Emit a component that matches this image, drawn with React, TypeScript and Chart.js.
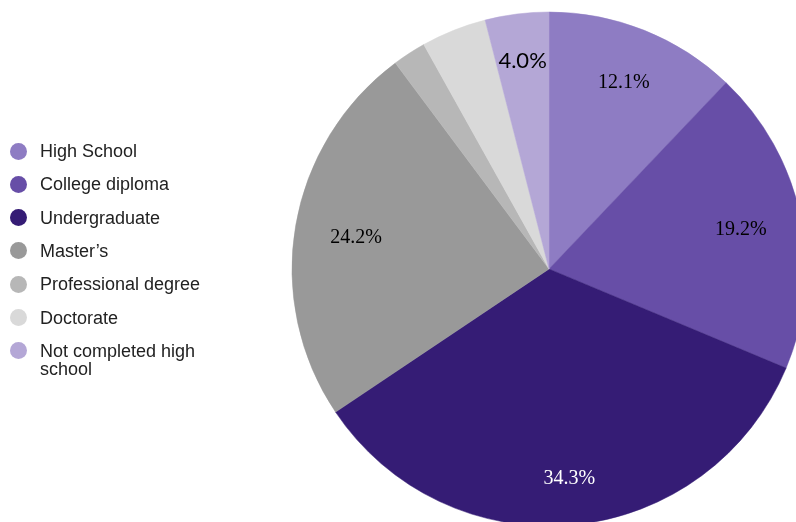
import React, { useEffect, useRef } from "react";
import { Chart, registerables } from "chart.js";

Chart.register(...registerables);

const categories = [
  "High School",
  "College diploma",
  "Undergraduate",
  "Master\u2019s",
  "Professional degree",
  "Doctorate",
  "Not completed high school",
];
const legendLines = [
  ["High School"],
  ["College diploma"],
  ["Undergraduate"],
  ["Master\u2019s"],
  ["Professional degree"],
  ["Doctorate"],
  ["Not completed high", "school"],
];
const values = [12.1, 19.2, 34.3, 24.2, 2.1, 4.1, 4.0];
const colors = ["#8e7cc3", "#674ea7", "#351c75", "#999999", "#b7b7b7", "#d9d9d9", "#b4a7d6"];
const showLabel = [true, true, true, true, false, false, true];
const labelColors = ["#000000", "#000000", "#ffffff", "#000000", "#000000", "#000000", "#000000"];
const labelFonts = [
  "20px 'Liberation Serif'",
  "20px 'Liberation Serif'",
  "20px 'Liberation Serif'",
  "20px 'Liberation Serif'",
  "20px 'Liberation Serif'",
  "20px 'Liberation Serif'",
  "22px Lato",
];
const labelRadius = [0.784, 0.763, 0.816, 0.762, 0.79, 0.79, 0.82];
const labelDigitHalf = [6.6, 6.6, 6.6, 6.6, 6.6, 6.6, 7.9];

const sliceLabelPlugin = {
  id: "sliceLabels",
  afterDatasetsDraw(chart: any) {
    const ctx = chart.ctx;
    const meta = chart.getDatasetMeta(0);
    meta.data.forEach((arc: any, i: number) => {
      if (!showLabel[i]) return;
      const p = arc.getProps(["x", "y", "startAngle", "endAngle", "outerRadius"], true);
      const mid = (p.startAngle + p.endAngle) / 2;
      const r = p.outerRadius * labelRadius[i];
      const tx = p.x + Math.cos(mid) * r;
      const ty = p.y + Math.sin(mid) * r;
      ctx.save();
      ctx.font = labelFonts[i];
      ctx.fillStyle = labelColors[i];
      ctx.textAlign = "center";
      ctx.textBaseline = "alphabetic";
      ctx.fillText(values[i].toFixed(1) + "%", tx, ty + labelDigitHalf[i]);
      ctx.restore();
    });
  },
};

function Legend() {
  return (
    <div style={{ position: "absolute", left: 0, top: 0 }}>
      {legendLines.map((lines, i) => {
        const cy = 151 + i * 33.3;
        return (
          <div key={i}>
            <div
              style={{
                position: "absolute",
                left: 9.5,
                top: cy - 8.5,
                width: 17,
                height: 17,
                borderRadius: "50%",
                background: colors[i],
              }}
            />
            {lines.map((t, j) => (
              <div
                key={j}
                style={{
                  position: "absolute",
                  left: 40,
                  top: cy - 11 + j * 18,
                  height: 22,
                  lineHeight: "22px",
                  whiteSpace: "nowrap",
                  fontFamily: "'Liberation Sans', Arial, sans-serif",
                  fontSize: 18,
                  color: "#222222",
                }}
              >
                {t}
              </div>
            ))}
          </div>
        );
      })}
    </div>
  );
}

export default function App() {
  const canvasRef = useRef<HTMLCanvasElement | null>(null);

  useEffect(() => {
    const canvas = canvasRef.current;
    if (!canvas) return;
    const chart = new Chart(canvas, {
      type: "pie",
      data: {
        labels: categories,
        datasets: [
          {
            data: values,
            backgroundColor: colors,
            borderColor: colors,
            borderWidth: 0.5,
            radius: 257,
          } as any,
        ],
      },
      options: {
        responsive: false,
        animation: false,
        devicePixelRatio: 1,
        layout: { padding: { left: 302, right: 0, top: 16, bottom: 0 } },
        plugins: {
          legend: { display: false },
          tooltip: { enabled: false },
        },
      },
      plugins: [sliceLabelPlugin],
    });
    return () => chart.destroy();
  }, []);

  return (
    <div
      style={{
        position: "fixed",
        left: 0,
        top: 0,
        width: 796,
        height: 522,
        overflow: "hidden",
        background: "#ffffff",
      }}
    >
      <canvas ref={canvasRef} width={796} height={522} style={{ position: "absolute", left: 0, top: 0 }} />
      <Legend />
    </div>
  );
}
